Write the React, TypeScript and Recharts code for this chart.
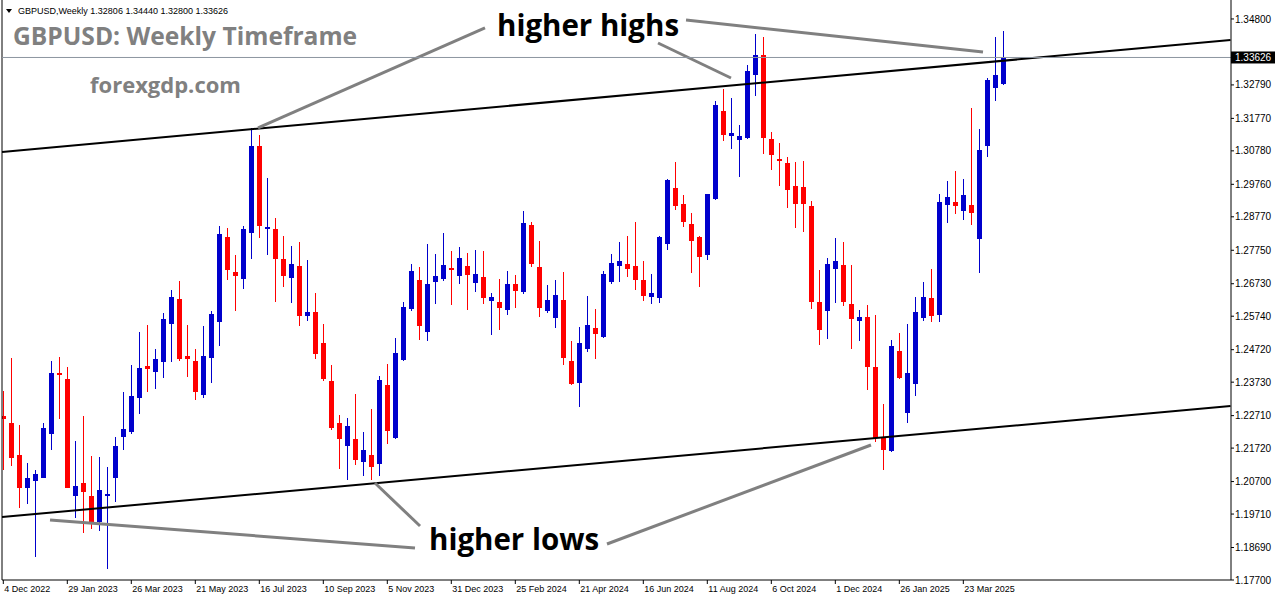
import React from "react";
import { ComposedChart, Bar, XAxis, YAxis, ReferenceLine } from "recharts";

// weekly GBPUSD candles, 4 Dec 2022 .. Apr 2025
const opens = [
  1.2270, 1.2248, 1.2151, 1.2050, 1.2072, 1.2081, 1.2215, 1.2401, 1.2383, 1.2026,
  1.2066, 1.2026, 1.1947, 1.2026, 1.2081, 1.2206, 1.2221, 1.2325, 1.2422, 1.2404,
  1.2434, 1.2550, 1.2626, 1.2453, 1.2437, 1.2334, 1.2447, 1.2556, 1.2815, 1.2709,
  1.2687, 1.2828, 1.3093, 1.2840, 1.2840, 1.2748, 1.2690, 1.2727, 1.2575, 1.2587,
  1.2492, 1.2377, 1.2248, 1.2178, 1.2200, 1.2130, 1.2151, 1.2124, 1.2364, 1.2203,
  1.2440, 1.2596, 1.2684, 1.2526, 1.2678, 1.2687, 1.2721, 1.2697, 1.2727, 1.2675,
  1.2694, 1.2620, 1.2617, 1.2593, 1.2672, 1.2648, 1.2852, 1.2724, 1.2590, 1.2569,
  1.2623, 1.2437, 1.2370, 1.2474, 1.2538, 1.2511, 1.2678, 1.2727, 1.2733, 1.2727,
  1.2684, 1.2632, 1.2629, 1.2794, 1.2965, 1.2916, 1.2855, 1.2815, 1.2760, 1.2931,
  1.3199, 1.3123, 1.3111, 1.3117, 1.3309, 1.3370, 1.3114, 1.3053, 1.3041, 1.2971,
  1.2968, 1.2910, 1.2617, 1.2590, 1.2718, 1.2730, 1.2611, 1.2560, 1.2572, 1.2419,
  1.2203, 1.2163, 1.2468, 1.2279, 1.2367, 1.2569, 1.2629, 1.2578, 1.2913, 1.2922,
  1.2895, 1.2913, 1.2809, 1.3093, 1.3270, 1.32806,
];
const highs = [
  1.2346, 1.2446, 1.2242, 1.2127, 1.2105, 1.2248, 1.2437, 1.2450, 1.2419, 1.2194,
  1.2270, 1.2148, 1.2145, 1.2114, 1.2206, 1.2343, 1.2425, 1.2526, 1.2547, 1.2474,
  1.2584, 1.2654, 1.2681, 1.2547, 1.2474, 1.2544, 1.2590, 1.2849, 1.2843, 1.2761,
  1.2849, 1.3148, 1.3126, 1.2995, 1.2873, 1.2819, 1.2788, 1.2800, 1.2745, 1.2645,
  1.2550, 1.2425, 1.2273, 1.2264, 1.2337, 1.2221, 1.2291, 1.2392, 1.2428, 1.2507,
  1.2617, 1.2733, 1.2724, 1.2794, 1.2764, 1.2828, 1.2773, 1.2785, 1.2767, 1.2776,
  1.2773, 1.2645, 1.2687, 1.2712, 1.2700, 1.2895, 1.2861, 1.2803, 1.2669, 1.2684,
  1.2709, 1.2499, 1.2541, 1.2636, 1.2596, 1.2712, 1.2764, 1.2800, 1.2819, 1.2861,
  1.2742, 1.2703, 1.2819, 1.2992, 1.3044, 1.2943, 1.2888, 1.2819, 1.2946, 1.3230,
  1.3266, 1.3239, 1.3157, 1.3340, 1.3434, 1.3425, 1.3135, 1.3102, 1.3059, 1.3044,
  1.3047, 1.2925, 1.2715, 1.2751, 1.2812, 1.2800, 1.2730, 1.2593, 1.2608, 1.2578,
  1.2306, 1.2501, 1.2523, 1.2550, 1.2632, 1.2678, 1.2718, 1.2946, 1.2986, 1.3017,
  1.2992, 1.3209, 1.3145, 1.3300, 1.3425, 1.34440,
];
const lows = [
  1.2105, 1.2117, 1.1989, 1.2002, 1.1840, 1.2081, 1.2166, 1.2261, 1.2050, 1.1959,
  1.1913, 1.1925, 1.1919, 1.1803, 1.2008, 1.2166, 1.2215, 1.2276, 1.2343, 1.2352,
  1.2386, 1.2434, 1.2437, 1.2389, 1.2319, 1.2325, 1.2370, 1.2483, 1.2684, 1.2590,
  1.2657, 1.2748, 1.2812, 1.2761, 1.2617, 1.2663, 1.2614, 1.2544, 1.2559, 1.2444,
  1.2377, 1.2227, 1.2108, 1.2075, 1.2120, 1.2087, 1.2075, 1.2087, 1.2184, 1.2200,
  1.2437, 1.2590, 1.2502, 1.2498, 1.2611, 1.2681, 1.2608, 1.2672, 1.2593, 1.2648,
  1.2611, 1.2517, 1.2532, 1.2578, 1.2599, 1.2642, 1.2724, 1.2572, 1.2584, 1.2538,
  1.2425, 1.2364, 1.2297, 1.2465, 1.2444, 1.2508, 1.2672, 1.2678, 1.2694, 1.2654,
  1.2620, 1.2611, 1.2614, 1.2776, 1.2898, 1.2846, 1.2706, 1.2663, 1.2745, 1.2928,
  1.3108, 1.3084, 1.2998, 1.3114, 1.3245, 1.3068, 1.3020, 1.2971, 1.2904, 1.2843,
  1.2831, 1.2596, 1.2486, 1.2504, 1.2614, 1.2605, 1.2474, 1.2498, 1.2349, 1.2191,
  1.2105, 1.2160, 1.2383, 1.2248, 1.2331, 1.2560, 1.2556, 1.2556, 1.2858, 1.2885,
  1.2867, 1.2852, 1.2706, 1.3059, 1.3230, 1.32800,
];
const closes = [
  1.2261, 1.2142, 1.2050, 1.2081, 1.2093, 1.2233, 1.2401, 1.2395, 1.2050, 1.2056,
  1.2038, 1.1944, 1.2044, 1.2032, 1.2178, 1.2230, 1.2331, 1.2416, 1.2413, 1.2444,
  1.2565, 1.2632, 1.2444, 1.2444, 1.2343, 1.2453, 1.2581, 1.2825, 1.2715, 1.2697,
  1.2840, 1.3093, 1.2849, 1.2846, 1.2748, 1.2697, 1.2733, 1.2575, 1.2587, 1.2459,
  1.2383, 1.2233, 1.2200, 1.2239, 1.2136, 1.2166, 1.2114, 1.2380, 1.2224, 1.2462,
  1.2602, 1.2712, 1.2544, 1.2672, 1.2697, 1.2730, 1.2715, 1.2751, 1.2700, 1.2703,
  1.2630, 1.2632, 1.2599, 1.2672, 1.2651, 1.2858, 1.2733, 1.2599, 1.2623, 1.2639,
  1.2447, 1.2367, 1.2492, 1.2547, 1.2520, 1.2703, 1.2736, 1.2742, 1.2718, 1.2684,
  1.2636, 1.2645, 1.2815, 1.2989, 1.2910, 1.2861, 1.2803, 1.2754, 1.2946, 1.3218,
  1.3126, 1.3132, 1.3123, 1.3321, 1.3370, 1.3117, 1.3065, 1.3047, 1.2959, 1.2916,
  1.2916, 1.2617, 1.2532, 1.2733, 1.2742, 1.2617, 1.2566, 1.2572, 1.2419, 1.2203,
  1.2166, 1.2483, 1.2386, 1.2401, 1.2587, 1.2632, 1.2575, 1.2922, 1.2937, 1.2910,
  1.2943, 1.2888, 1.3081, 1.3294, 1.3309, 1.33626,
];

const dateLabels = [
  "4 Dec 2022", "29 Jan 2023", "26 Mar 2023", "21 May 2023", "16 Jul 2023",
  "10 Sep 2023", "5 Nov 2023", "31 Dec 2023", "25 Feb 2024", "21 Apr 2024",
  "16 Jun 2024", "11 Aug 2024", "6 Oct 2024", "1 Dec 2024", "26 Jan 2025", "23 Mar 2025",
];
// 1.33700 sits under the current price box, so it is left out
const priceTicks = [
  1.177, 1.1869, 1.1971, 1.207, 1.2172, 1.2271, 1.2373, 1.2472, 1.2574,
  1.2673, 1.2775, 1.2877, 1.2976, 1.3078, 1.3177, 1.3279, 1.348,
];
const lastPrice = 1.33626;

// channel lines and arrows, in (week index, price)
const upperChannel = [{ x: -0.16, y: 1.30745 }, { x: 153.4, y: 1.34159 }];
const lowerChannel = [{ x: -0.16, y: 1.1962 }, { x: 153.4, y: 1.23003 }];
const arrows = [
  [{ x: 60.21, y: 1.34525 }, { x: 31.84, y: 1.31477 }],
  [{ x: 81.84, y: 1.34067 }, { x: 90.96, y: 1.33001 }],
  [{ x: 85.34, y: 1.34768 }, { x: 122.46, y: 1.33793 }],
  [{ x: 5.84, y: 1.19528 }, { x: 51.46, y: 1.18675 }],
  [{ x: 46.46, y: 1.20656 }, { x: 52.09, y: 1.19345 }],
  [{ x: 75.46, y: 1.18797 }, { x: 108.46, y: 1.21814 }],
];

const X_MIN = -0.1625;
const X_MAX = 153.46;

const data = opens.map((o, i) => ({
  idx: i,
  open: o,
  high: highs[i],
  low: lows[i],
  close: closes[i],
  range: [lows[i], highs[i]],
}));

const Candle = (props: any) => {
  const { x, y, width, height, payload } = props;
  if (!payload) return null;
  const { open, close, high, low } = payload;
  const top = Math.min(y, y + height);
  const h = Math.abs(height);
  const span = high - low || 1;
  const py = (p: number) => top + ((high - p) / span) * h;
  const color = close >= open ? "#0000CC" : "#FF0000";
  const bx = Math.round(x + width / 2 - 2.5);
  const bTop = Math.round(py(Math.max(open, close)));
  const bBot = Math.round(py(Math.min(open, close)));
  return (
    <g>
      <rect x={bx + 2} y={Math.round(top)} width={1} height={Math.max(1, Math.round(h))} fill={color} />
      <rect x={bx} y={bTop} width={5} height={Math.max(2, bBot - bTop)} fill={color} />
    </g>
  );
};

const DateTick = (props: any) => {
  const { x, y, payload } = props;
  return (
    <text x={x + 1} y={y} dy={7} textAnchor="start" fontSize={9} fontFamily="Liberation Sans, Arial" fill="#000">
      {dateLabels[Math.round(payload.value / 8)]}
    </text>
  );
};

const PriceLabel = (props: any) => {
  const { viewBox } = props;
  const x = viewBox.x + viewBox.width;
  const y = viewBox.y;
  return (
    <g>
      <rect x={x} y={y - 6} width={44} height={12} fill="#000" />
      <text x={x + 4} y={y + 4} fontSize={10} fontFamily="Liberation Sans, Arial" fill="#fff">
        {lastPrice.toFixed(5)}
      </text>
    </g>
  );
};

export default function App() {
  return (
    <div style={{ position: "absolute", left: 0, top: 0, width: 1276, height: 604, background: "#fff" }}>
      <ComposedChart width={1276} height={604} data={data} margin={{ top: 0, right: 0, bottom: 0, left: 2 }}>
        <XAxis
          type="number"
          dataKey="idx"
          domain={[X_MIN, X_MAX]}
          allowDataOverflow
          ticks={dateLabels.map((_, i) => i * 8)}
          interval={0}
          height={24}
          tickSize={4}
          tickMargin={1}
          axisLine={{ stroke: "#000" }}
          tickLine={{ stroke: "#000" }}
          tick={<DateTick />}
        />
        <YAxis
          orientation="right"
          domain={[1.177, 1.35378]}
          allowDataOverflow
          ticks={priceTicks}
          interval={0}
          width={45}
          tickSize={3}
          tickMargin={1}
          axisLine={{ stroke: "#000" }}
          tickLine={{ stroke: "#000" }}
          tick={{ fontSize: 10, fill: "#000", fontFamily: "Liberation Sans, Arial" }}
          tickFormatter={(v: number) => v.toFixed(5)}
        />
        <ReferenceLine x={X_MIN} stroke="#000" />
        <Bar dataKey="range" shape={<Candle />} barSize={5} isAnimationActive={false} />
        <ReferenceLine segment={upperChannel} stroke="#000" strokeWidth={2} />
        <ReferenceLine segment={lowerChannel} stroke="#000" strokeWidth={2} />
        {arrows.map((seg, i) => (
          <ReferenceLine key={i} segment={seg} stroke="#808080" strokeWidth={3} />
        ))}
        <ReferenceLine y={lastPrice} stroke="#8C96A0" label={<PriceLabel />} />
      </ComposedChart>
      <svg width={1276} height={604} style={{ position: "absolute", left: 0, top: 0, pointerEvents: "none" }}>
        <path d="M6 9 L12 9 L9 13 Z" fill="#000" />
        <text x={18} y={14} fontSize={9} fontFamily="Liberation Sans, Arial" fill="#000">
          GBPUSD,Weekly  1.32806 1.34440 1.32800 1.33626
        </text>
        <text x={13} y={45} fontSize={24.6} fontWeight="bold" fontFamily="Open Sans" fill="#808080">
          GBPUSD: Weekly Timeframe
        </text>
        <text x={90} y={93} fontSize={22} fontWeight="bold" fontFamily="Open Sans" fill="#808080">
          forexgdp.com
        </text>
        <text x={497} y={36} fontSize={29.5} fontWeight="bold" fontFamily="Open Sans" fill="#000">
          higher highs
        </text>
        <text x={429} y={550} fontSize={29.5} fontWeight="bold" fontFamily="Open Sans" fill="#000">
          higher lows
        </text>
      </svg>
    </div>
  );
}
